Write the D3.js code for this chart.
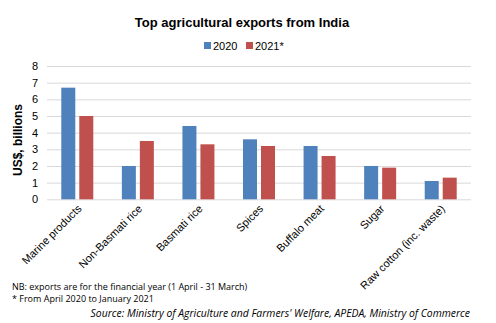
<!DOCTYPE html>
<html><head><meta charset="utf-8">
<script src="https://cdn.jsdelivr.net/npm/d3@7"></script>
<style>body{margin:0;background:#fff}svg{display:block}</style>
</head><body>
<script>
const categories = ["Marine products","Non-Basmati rice","Basmati rice","Spices","Buffalo meat","Sugar","Raw cotton (inc. waste)"];
const values2020 = [6.7,2.0,4.4,3.6,3.2,2.0,1.1];
const values2021 = [5.0,3.5,3.3,3.2,2.6,1.9,1.3];
const seriesNames = ["2020","2021*"];
const yTicks = [0,1,2,3,4,5,6,7,8];
const colors = ["#4f81bd","#c0504d"];

const W=496,H=323;
const svg=d3.select("body").append("svg").attr("width",W).attr("height",H);
const m={l:47,r:471,t:66,b:199.3};
const x=d3.scaleBand().domain(categories).range([m.l,m.r]);
const y=d3.scaleLinear().domain([0,8]).range([m.b,m.t]);
const font="Liberation Sans, Arial, sans-serif";

svg.append("text").attr("x",242).attr("y",27).attr("text-anchor","middle")
  .attr("font-family",font).attr("font-weight","bold").attr("font-size",13).attr("fill","#000")
  .text("Top agricultural exports from India");

// legend
const lg=svg.append("g");
const legX=[204,246];
seriesNames.forEach((s,i)=>{
  lg.append("rect").attr("x",legX[i]).attr("y",42).attr("width",7).attr("height",7).attr("fill",colors[i]);
  lg.append("text").attr("x",legX[i]+9).attr("y",49.5).attr("font-family",font).attr("font-size",11).attr("fill","#000").text(s);
});

// grid
const yAxis=d3.axisLeft(y).tickValues(yTicks).tickSize(-(m.r-m.l)).tickPadding(9);
const ga=svg.append("g").attr("transform",`translate(${m.l},0)`).call(yAxis);
ga.select(".domain").remove();
ga.selectAll(".tick line").attr("stroke","#d9d9d9").attr("stroke-width",1);
ga.selectAll(".tick text").attr("font-family",font).attr("font-size",11).attr("fill","#000");

// bars
const bw=14, gap=4;
const series=[values2020,values2021];
series.forEach((vals,si)=>{
  svg.append("g").selectAll("rect").data(categories).join("rect")
    .attr("x",(d)=>x(d)+x.bandwidth()/2 - (bw*2+gap)/2 + si*(bw+gap))
    .attr("y",(d,i)=>y(vals[i]))
    .attr("width",bw)
    .attr("height",(d,i)=>y(0)-y(vals[i]))
    .attr("fill",colors[si]);
});

// x labels
const xAxis=d3.axisBottom(x).tickSize(0).tickPadding(0);
const gx=svg.append("g").attr("transform",`translate(0,${m.b})`).call(xAxis);
gx.select(".domain").remove();
gx.selectAll(".tick text").attr("font-family",font).attr("font-size",11).attr("fill","#000")
  .attr("text-anchor","end").attr("dy",0)
  .attr("transform","translate(5,10) rotate(-45)");

// y title
svg.append("text").attr("transform","translate(22,140) rotate(-90)").attr("text-anchor","middle")
  .attr("font-family",font).attr("font-weight","bold").attr("font-size",12).attr("fill","#000")
  .text("US$, billions");

// notes
const nf="Open Sans, Liberation Sans, sans-serif";
svg.append("text").attr("x",12).attr("y",290).attr("font-family",nf).attr("font-size",9).attr("fill","#000")
  .text("NB: exports are for the financial year (1 April - 31 March)");
svg.append("text").attr("x",12).attr("y",302).attr("font-family",nf).attr("font-size",9).attr("fill","#000")
  .text("* From April 2020 to January 2021");
svg.append("text").attr("x",470).attr("y",317).attr("text-anchor","end").attr("font-family",nf).attr("font-style","italic").attr("font-size",10.4).attr("fill","#000")
  .text("Source: Ministry of Agriculture and Farmers' Welfare, APEDA, Ministry of Commerce");
</script>
</body></html>
